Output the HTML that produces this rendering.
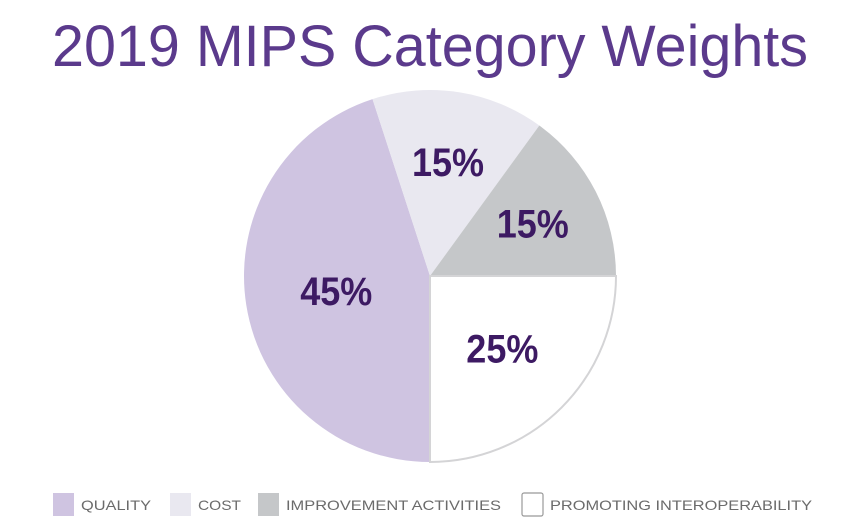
<!DOCTYPE html>
<html><head><meta charset="utf-8"><style>
body{margin:0;background:#fff;width:862px;height:525px;overflow:hidden;font-family:"Liberation Sans",sans-serif}
</style></head><body>
<svg width="862" height="525">
<text x="430" y="66" text-anchor="middle" font-size="58" fill="#5b3a8c" textLength="756" lengthAdjust="spacingAndGlyphs">2019 MIPS Category Weights</text>
<g id="slices"></g>
<g id="legend"></g>
</svg>
<script>
const categories=["QUALITY","COST","IMPROVEMENT ACTIVITIES","PROMOTING INTEROPERABILITY"];
const values=[45,15,15,25];
const labels=["45%","15%","15%","25%"];
const colors=["#cfc4e1","#e9e8f0","#c5c7c9","#ffffff"];
const cx=430,cy=276,r=186,startDeg=180;
const NS="http://www.w3.org/2000/svg";
const g=document.getElementById('slices');
const total=values.reduce((a,b)=>a+b,0);
function pt(deg,rad){const a=(deg-90)*Math.PI/180;return [cx+rad*Math.cos(a),cy+rad*Math.sin(a)];}
let acc=startDeg;
values.forEach((v,i)=>{
  const a0=acc,a1=acc+v/total*360;acc=a1;
  const p0=pt(a0,r),p1=pt(a1,r);
  const path=document.createElementNS(NS,'path');
  path.setAttribute('d',`M${cx},${cy}L${p0[0]},${p0[1]}A${r},${r} 0 ${a1-a0>180?1:0} 1 ${p1[0]},${p1[1]}Z`);
  path.setAttribute('fill',colors[i]);
  if(i===3){path.setAttribute('stroke','#d4d4d6');path.setAttribute('stroke-width','2');}
  
  
  g.appendChild(path);
  const mid=(a0+a1)/2;const lr=i===0?r*0.51:(i===3?r*0.55:r*0.62);
  const lp=pt(mid,lr);
  const t=document.createElementNS(NS,'text');
  t.setAttribute('x',lp[0]);t.setAttribute('y',lp[1]+14);
  t.setAttribute('text-anchor','middle');t.setAttribute('font-size','40');t.setAttribute('font-weight','bold');
  t.setAttribute('fill','#3d1a63');
  t.setAttribute('transform',`translate(${lp[0]} 0) scale(0.9 1) translate(${-lp[0]} 0)`);
  t.textContent=labels[i];
  
  
  g.appendChild(t);
});
const lg=document.getElementById('legend');
const lx=[53,170,258,522],tw=[70,43,215,262];
categories.forEach((c,i)=>{
  const s=document.createElementNS(NS,'rect');
  s.setAttribute('x',lx[i]);s.setAttribute('y',493);s.setAttribute('width',21);s.setAttribute('height',23);
  s.setAttribute('fill',colors[i]);
  if(i===3){s.setAttribute('stroke','#999');s.setAttribute('stroke-width','1.2');s.setAttribute('rx','2');}
  
  
  lg.appendChild(s);
  const t=document.createElementNS(NS,'text');
  t.setAttribute('x',lx[i]+28);t.setAttribute('y',510);t.setAttribute('font-size','14');t.setAttribute('fill','#6b6b6b');
  t.setAttribute('textLength',tw[i]);t.setAttribute('lengthAdjust','spacingAndGlyphs');
  t.textContent=c;
  
  
  lg.appendChild(t);
});
</script>
</body></html>
